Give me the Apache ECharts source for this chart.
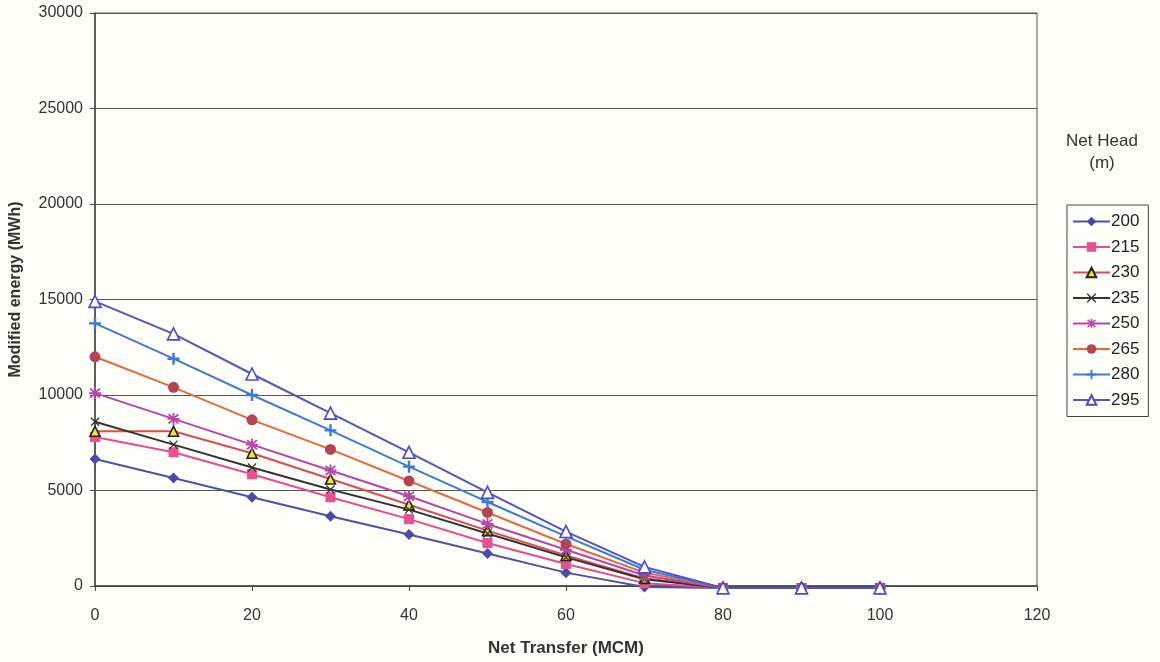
<!DOCTYPE html>
<html>
<head>
<meta charset="utf-8">
<script src="https://cdn.jsdelivr.net/npm/echarts@6/dist/echarts.min.js"></script>
<style>
  html, body { margin: 0; padding: 0; background: #fffffa; }
  #chart { width: 1160px; height: 662px; }
</style>
</head>
<body>
<div id="chart"></div>
<script>
// Net transfer (MCM) on the x axis
const transfer = [0, 10, 20, 30, 40, 50, 60, 70, 80, 90, 100];

// Modified energy (MWh) for each net head (m)
const head200 = [6650, 5650, 4650, 3650, 2700, 1700, 700, -50, -100, -100, -100];
const head215 = [7800, 7000, 5850, 4650, 3500, 2250, 1150, 150, -100, -100, -100];
const head230 = [8100, 8100, 6950, 5600, 4250, 2900, 1600, 400, -100, -100, -100];
const head235 = [8600, 7400, 6200, 5050, 4000, 2750, 1500, 350, -100, -100, -100];
const head250 = [10100, 8750, 7400, 6050, 4700, 3250, 1900, 550, -100, -100, -100];
const head265 = [12000, 10400, 8700, 7150, 5500, 3850, 2200, 700, -100, -100, -100];
const head280 = [13750, 11900, 10000, 8150, 6250, 4400, 2600, 850, -100, -100, -100];
const head295 = [14900, 13200, 11100, 9050, 7000, 4900, 2850, 1000, -100, -100, -100];

const headNames = ['200', '215', '230', '235', '250', '265', '280', '295'];
const headValues = [head200, head215, head230, head235, head250, head265, head280, head295];

const FONT = 'Liberation Sans, Arial, sans-serif';

// Marker shapes
const PLUS = 'path://M4,0 L6,0 L6,4 L10,4 L10,6 L6,6 L6,10 L4,10 L4,6 L0,6 L0,4 L4,4 Z';
const CROSS = 'path://M1,0 L5,4 L9,0 L10,1 L6,5 L10,9 L9,10 L5,6 L1,10 L0,9 L4,5 L0,1 Z';
const STAR = 'path://M4.2,0 L5.8,0 L5.8,3 L8.6,0.6 L9.6,1.8 L6.6,4.2 L10,4.2 L10,5.8 L6.6,5.8 L9.6,8.2 L8.6,9.4 L5.8,7 L5.8,10 L4.2,10 L4.2,7 L1.4,9.4 L0.4,8.2 L3.4,5.8 L0,5.8 L0,4.2 L3.4,4.2 L0.4,1.8 L1.4,0.6 L4.2,3 Z';

const styles = [
  { line: '#5050ac', symbol: 'diamond', size: 11, fill: '#4d4aa6', border: '#4d4aa6' },
  { line: '#ec4a8c', symbol: 'rect', size: 10, fill: '#e8508e', border: '#e8508e' },
  { line: '#e04a50', symbol: 'triangle', size: 10, fill: '#f2e81c', border: '#222222', bw: 1.6 },
  { line: '#333333', symbol: CROSS, size: 9, fill: '#333333', border: '#333333' },
  { line: '#b447a8', symbol: STAR, size: 12, fill: '#b447a8', border: '#b447a8' },
  { line: '#e6683c', symbol: 'circle', size: 11, fill: '#b54452', border: '#b54452' },
  { line: '#3a7bd8', symbol: PLUS, size: 12, fill: '#3a7bd8', border: '#3a7bd8' },
  { line: '#5452c6', symbol: 'triangle', size: 12, fill: '#ffffff', border: '#4a4ad0', bw: 1.6 }
];

const series = headNames.map((name, i) => {
  const s = styles[i];
  return {
    name: name,
    type: 'line',
    data: transfer.map((x, j) => [x, headValues[i][j]]),
    symbol: s.symbol,
    symbolSize: s.size,
    showAllSymbol: true,
    clip: false,
    lineStyle: { color: s.line, width: 2 },
    itemStyle: { color: s.fill, borderColor: s.border, borderWidth: s.bw || 0 },
    emphasis: { disabled: true },
    animation: false
  };
});

const chart = echarts.init(document.getElementById('chart'), null, { renderer: 'canvas' });
chart.setOption({
  backgroundColor: '#fffffa',
  textStyle: { fontFamily: FONT },
  grid: {
    left: 94, right: 123, top: 13, bottom: 76,
    show: true, borderColor: '#555555', borderWidth: 1, backgroundColor: 'transparent'
  },
  xAxis: {
    type: 'value', min: 0, max: 120, interval: 20,
    name: 'Net Transfer (MCM)', nameLocation: 'middle', nameGap: 54,
    nameTextStyle: { fontWeight: 'bold', fontSize: 17, color: '#333333' },
    axisLine: { show: true, lineStyle: { color: '#444444', width: 1.5 } },
    axisTick: { show: true, inside: false, length: 5, lineStyle: { color: '#444444' } },
    axisLabel: { fontSize: 16, color: '#333333', margin: 22 },
    splitLine: { show: false }
  },
  yAxis: {
    type: 'value', min: 0, max: 30000, interval: 5000,
    name: 'Modified energy (MWh)', nameLocation: 'middle', nameGap: 71,
    nameTextStyle: { fontWeight: 'bold', fontSize: 16, color: '#333333', padding: [0, 0, 0, 20] },
    axisLine: { show: true, lineStyle: { color: '#444444', width: 1.5 } },
    axisTick: { show: true, inside: false, length: 5, lineStyle: { color: '#444444' } },
    axisLabel: { fontSize: 16, color: '#333333', margin: 12, formatter: v => String(v) },
    splitLine: { show: true, lineStyle: { color: '#555555', width: 1 } }
  },
  legend: {
    orient: 'vertical',
    left: 1067, top: 205,
    padding: [8, 9, 8, 5],
    itemWidth: 37, itemHeight: 12, itemGap: 8.5,
    borderColor: '#444444', borderWidth: 1, borderRadius: 0,
    backgroundColor: 'transparent',
    textStyle: { fontSize: 17, color: '#222222', padding: [0, 0, 0, -4] },
    data: headNames
  },
  graphic: [
    {
      type: 'text', x: 1102, y: 141,
      style: { text: 'Net Head', fontSize: 17, fill: '#333333', font: '17px ' + FONT, align: 'center', verticalAlign: 'middle' }
    },
    {
      type: 'text', x: 1102, y: 163,
      style: { text: '(m)', fontSize: 17, fill: '#333333', font: '17px ' + FONT, align: 'center', verticalAlign: 'middle' }
    }
  ],
  series: series
});
</script>
</body>
</html>
